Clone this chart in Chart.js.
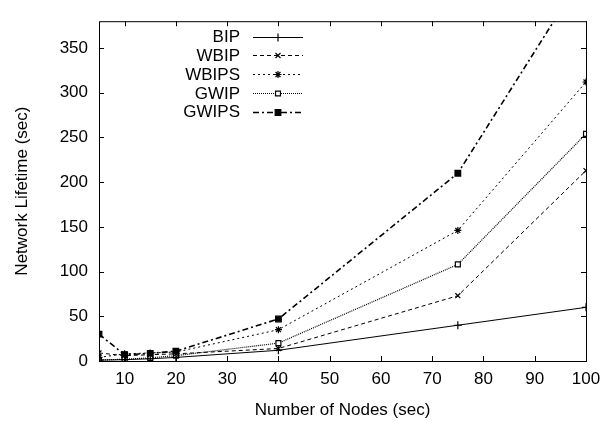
<!DOCTYPE html>
<html lang="en">
<head>
    <meta charset="UTF-8">
    <title>Network Lifetime</title>
    <script src="https://cdn.jsdelivr.net/npm/chart.js"></script>
    <style>
        html, body { margin: 0; padding: 0; background: #fff; }
        #wrap { width: 613px; height: 421px; }
    </style>
</head>
<body>
    <div id="wrap"><canvas id="lifeChart" width="613" height="421"></canvas></div>

    <script>
        // data
        const nodes = [5, 10, 15, 20, 40, 75, 100];
        const bip   = [1, 1.5, 2.5, 4, 12, 40, 60];
        const wbip  = [9, 6, 7, 8, 14, 73, 213];
        const wbips = [4, 8, 9, 10, 35, 146, 312];
        const gwip  = [1, 2, 3.5, 6, 20, 108, 254];
        const gwips = [30, 7, 8.5, 11, 47, 210, 437];
        const xTicks = [10, 20, 30, 40, 50, 60, 70, 80, 90, 100];
        const yTicks = [0, 50, 100, 150, 200, 250, 300, 350];

        const FONT = "Liberation Sans, Arial, sans-serif";

        function pts(ys) {
            return nodes.map((x, i) => ({ x: x, y: ys[i] }));
        }

        const series = [
            { label: "BIP",   data: bip,   dash: [],           style: "cross",    r: 4,   fill: false, width: 1 },
            { label: "WBIP",  data: wbip,  dash: [4, 3],       style: "crossRot", r: 3.5, fill: false, width: 1 },
            { label: "WBIPS", data: wbips, dash: [2, 3],       style: "star",     r: 3.5, fill: false, width: 1 },
            { label: "GWIP",  data: gwip,  dash: [1, 1],       style: "rect",     r: 3.5, fill: false, width: 1.2 },
            { label: "GWIPS", data: gwips, dash: [6, 3, 2, 3], style: "rect",     r: 4,   fill: true,  width: 1.6 }
        ];

        // gnuplot-like frame with inward ticks
        const framePlugin = {
            id: "frame",
            afterDatasetsDraw(chart) {
                const ctx = chart.ctx;
                const a = chart.chartArea;
                const xs = chart.scales.x, ys = chart.scales.y;
                ctx.save();
                ctx.strokeStyle = "#000";
                ctx.lineWidth = 1;
                ctx.setLineDash([]);
                ctx.strokeRect(a.left + 0.5, a.top + 0.5, a.right - a.left, a.bottom - a.top);
                ctx.beginPath();
                xTicks.forEach(v => {
                    const px = Math.round(xs.getPixelForValue(v)) + 0.5;
                    ctx.moveTo(px, a.bottom); ctx.lineTo(px, a.bottom - 5);
                    ctx.moveTo(px, a.top); ctx.lineTo(px, a.top + 5);
                });
                yTicks.forEach(v => {
                    const py = Math.round(ys.getPixelForValue(v)) + 0.5;
                    ctx.moveTo(a.left, py); ctx.lineTo(a.left + 5, py);
                    ctx.moveTo(a.right, py); ctx.lineTo(a.right - 5, py);
                });
                ctx.stroke();
                ctx.restore();
            }
        };

        // legend: right aligned names, sample line with marker
        const legendPlugin = {
            id: "keyBox",
            afterDatasetsDraw(chart) {
                const ctx = chart.ctx;
                ctx.save();
                ctx.font = "17px " + FONT;
                ctx.textAlign = "right";
                ctx.textBaseline = "middle";
                chart.data.datasets.forEach((ds, i) => {
                    const y = 36.5 + i * 18.8;
                    ctx.fillStyle = "#000";
                    ctx.fillText(ds.label, 240, y + 1);
                    ctx.beginPath();
                    ctx.strokeStyle = "#000";
                    ctx.lineWidth = ds.borderWidth;
                    ctx.setLineDash(ds.borderDash);
                    ctx.moveTo(253, Math.round(y) + 0.5);
                    ctx.lineTo(303, Math.round(y) + 0.5);
                    ctx.stroke();
                    ctx.setLineDash([]);
                    ctx.lineWidth = 1.2;
                    ctx.fillStyle = ds.pointBackgroundColor;
                    Chart.helpers.drawPoint(ctx, {
                        pointStyle: ds.pointStyle, radius: ds.pointRadius, rotation: 0, borderWidth: 1.2
                    }, 278, Math.round(y) + 0.5);
                });
                ctx.restore();
            }
        };

        const ctx = document.getElementById("lifeChart").getContext("2d");
        new Chart(ctx, {
            type: "line",
            data: {
                datasets: series.map(s => ({
                    label: s.label,
                    data: pts(s.data),
                    borderColor: "#000",
                    borderWidth: s.width,
                    borderDash: s.dash,
                    pointStyle: s.style,
                    pointRadius: s.r,
                    pointBorderColor: "#000",
                    pointBorderWidth: 1.2,
                    pointBackgroundColor: s.fill ? "#000" : "#fff",
                    tension: 0,
                    fill: false
                }))
            },
            options: {
                responsive: false,
                animation: false,
                layout: { padding: { top: 8, right: 27, left: 12, bottom: 0 } },
                plugins: { legend: { display: false }, tooltip: { enabled: false } },
                scales: {
                    x: {
                        type: "linear",
                        min: 5,
                        max: 100,
                        grid: { display: false, drawTicks: false },
                        border: { display: false },
                        afterBuildTicks: s => { s.ticks = xTicks.map(v => ({ value: v })); },
                        afterFit: s => { s.height = 60; },
                        ticks: { color: "#000", font: { family: FONT, size: 17 }, padding: 8, maxRotation: 0 },
                        title: { display: true, text: "Number of Nodes (sec)", color: "#000",
                                 font: { family: FONT, size: 17 }, padding: { top: 1, bottom: 0 } }
                    },
                    y: {
                        min: 0,
                        max: 380,
                        grid: { display: false, drawTicks: false },
                        border: { display: false },
                        afterBuildTicks: s => { s.ticks = yTicks.map(v => ({ value: v })); },
                        afterFit: s => { s.width = 87; },
                        ticks: { color: "#000", font: { family: FONT, size: 17 }, padding: 11 },
                        title: { display: true, text: "Network Lifetime (sec)", color: "#000",
                                 font: { family: FONT, size: 17 }, padding: { top: 0, bottom: 0 } }
                    }
                }
            },
            plugins: [framePlugin, legendPlugin]
        });
    </script>
</body>
</html>
